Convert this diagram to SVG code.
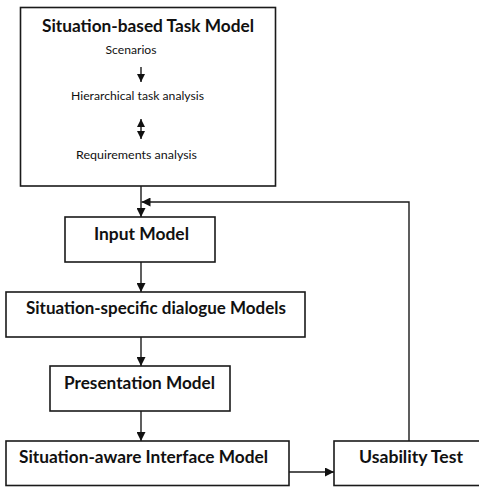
<svg xmlns="http://www.w3.org/2000/svg" width="479" height="489" viewBox="0 0 479 489">
  <style>
    .box { fill: #ffffff; stroke: #1a1a1a; stroke-width: 1.6; }
    .title { font-family: Lato, "Open Sans", "Liberation Sans", sans-serif; font-weight: bold; font-size: 16.5px; fill: #111111; }
    .sub { font-family: Lato, "Open Sans", "Liberation Sans", sans-serif; font-size: 11px; fill: #111111; }
    .conn { fill: none; stroke: #1a1a1a; stroke-width: 1.4; }
  </style>
  <defs>
    <marker id="arrow" viewBox="0 0 10 10" refX="10" refY="5" markerWidth="9" markerHeight="9" markerUnits="userSpaceOnUse" orient="auto">
      <path d="M0,0 L10,5 L0,10 Z" fill="#111111"/>
    </marker>
    <marker id="arrowSmall" viewBox="0 0 10 10" refX="10" refY="5" markerWidth="8" markerHeight="8" markerUnits="userSpaceOnUse" orient="auto-start-reverse">
      <path d="M0,0 L10,5 L0,10 Z" fill="#111111"/>
    </marker>
  </defs>
  <rect width="479" height="489" fill="#ffffff"/>

  <g id="task-model">
    <rect class="box" x="20.5" y="7.5" width="255" height="178.5"/>
    <text class="title" x="148" y="32" text-anchor="middle" textLength="212" lengthAdjust="spacingAndGlyphs">Situation-based Task Model</text>
    <text class="sub" x="131" y="54" text-anchor="middle" textLength="51" lengthAdjust="spacingAndGlyphs">Scenarios</text>
    <line class="conn" x1="141" y1="67" x2="141" y2="82" marker-end="url(#arrowSmall)"/>
    <text class="sub" x="137.5" y="100" text-anchor="middle" textLength="133" lengthAdjust="spacingAndGlyphs">Hierarchical task analysis</text>
    <line class="conn" x1="141" y1="119" x2="141" y2="139" marker-start="url(#arrowSmall)" marker-end="url(#arrowSmall)"/>
    <text class="sub" x="136.5" y="159" text-anchor="middle" textLength="121" lengthAdjust="spacingAndGlyphs">Requirements analysis</text>
  </g>

  <g id="input-model">
    <rect class="box" x="65" y="217" width="150" height="45"/>
    <text class="title" x="141.5" y="240" text-anchor="middle" textLength="95" lengthAdjust="spacingAndGlyphs">Input Model</text>
  </g>

  <g id="dialogue-models">
    <rect class="box" x="6" y="292" width="299" height="45"/>
    <text class="title" x="156" y="314" text-anchor="middle" textLength="260" lengthAdjust="spacingAndGlyphs">Situation-specific dialogue Models</text>
  </g>

  <g id="presentation-model">
    <rect class="box" x="50" y="366" width="180" height="45"/>
    <text class="title" x="139.5" y="389" text-anchor="middle" textLength="151" lengthAdjust="spacingAndGlyphs">Presentation Model</text>
  </g>

  <g id="interface-model">
    <rect class="box" x="6" y="441" width="283" height="44.5"/>
    <text class="title" x="143.5" y="463" text-anchor="middle" textLength="249" lengthAdjust="spacingAndGlyphs">Situation-aware Interface Model</text>
  </g>

  <g id="usability-test">
    <rect class="box" x="334" y="441" width="150" height="44.5"/>
    <text class="title" x="411" y="463" text-anchor="middle" textLength="104" lengthAdjust="spacingAndGlyphs">Usability Test</text>
  </g>

  <g id="connectors">
    <line class="conn" x1="141" y1="186" x2="141" y2="217" marker-end="url(#arrow)"/>
    <line class="conn" x1="141" y1="262" x2="141" y2="292" marker-end="url(#arrow)"/>
    <line class="conn" x1="141" y1="337" x2="141" y2="366" marker-end="url(#arrow)"/>
    <line class="conn" x1="141" y1="411" x2="141" y2="441" marker-end="url(#arrow)"/>
    <line class="conn" x1="289" y1="472" x2="334" y2="472" marker-end="url(#arrow)"/>
    <polyline class="conn" points="409,441 409,202 141.5,202" marker-end="url(#arrow)"/>
  </g>
</svg>
